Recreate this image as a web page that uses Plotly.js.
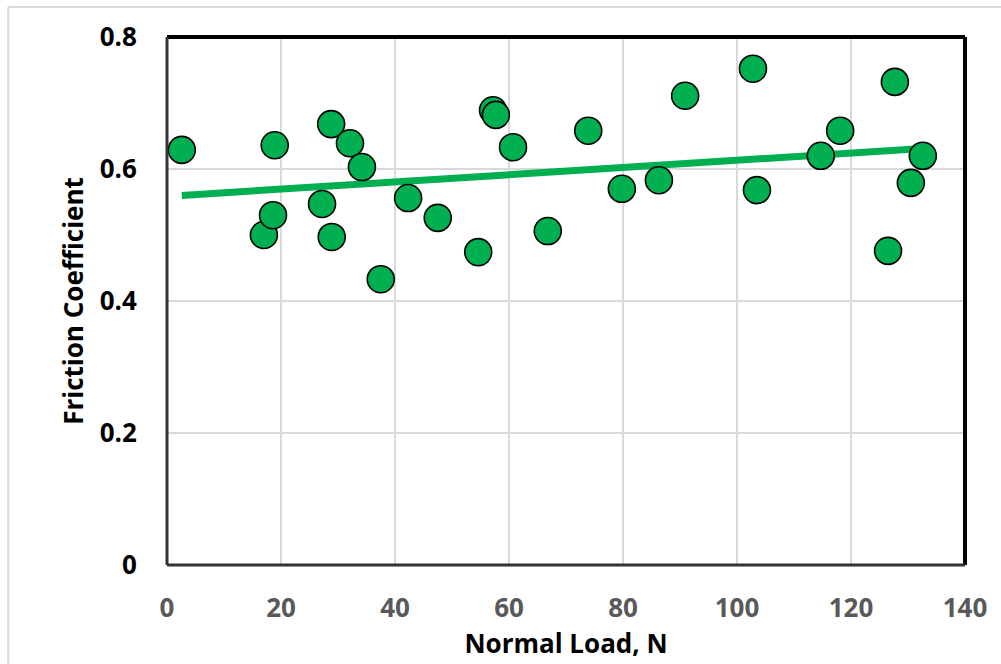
<!DOCTYPE html>
<html><head><meta charset="utf-8">
<script src="https://cdn.plot.ly/plotly-3.0.1.min.js"></script>
<style>html,body{margin:0;padding:0;background:#fff;}#chart{width:1001px;height:664px;}</style>
</head><body><div id="chart"></div>
<script>
const loadN = [2.6,17.0,18.9,18.6,27.2,28.8,28.9,32.1,34.2,37.5,42.3,47.5,54.6,57.2,57.7,60.7,66.8,73.9,79.8,86.3,90.9,102.8,103.5,114.7,118.1,126.5,127.7,130.5,132.6];
const friction = [0.629,0.500,0.636,0.530,0.547,0.668,0.497,0.639,0.603,0.433,0.556,0.526,0.474,0.689,0.682,0.633,0.506,0.658,0.570,0.583,0.711,0.752,0.568,0.620,0.658,0.476,0.732,0.579,0.620];
const trendX = [2.6,132.6];
const trendY = [0.560,0.631];
const xTicks = [0,20,40,60,80,100,120,140];
const yTicks = [0,0.2,0.4,0.6,0.8];
const yTickText = ['0','0.2','0.4','0.6','0.8'];

const green = '#00B050';
const traces = [
  {x: trendX, y: trendY, mode:'lines', line:{color:green,width:7}, hoverinfo:'skip', showlegend:false},
  {x: loadN, y: friction, mode:'markers', marker:{size:27,color:green,line:{color:'#000',width:1.6}}, showlegend:false}
];
const fam = '"Open Sans", Lato, sans-serif';
const layout = {
  width:1001, height:664,
  margin:{l:167,r:36,t:37,b:99},
  paper_bgcolor:'#fff', plot_bgcolor:'#fff',
  font:{family:fam},
  xaxis:{range:[0,140], tickvals:xTicks, ticktext:xTicks.map(String),
    showgrid:true, gridcolor:'#d9d9d9', gridwidth:1.5, zeroline:false,
    tickfont:{family:fam,size:26,color:'#595959',weight:'bold'}, ticks:'outside', ticklen:20, tickcolor:'rgba(0,0,0,0)',
    title:{text:'Normal Load, N', font:{family:fam,size:26,color:'#000',weight:'bold'}, standoff:2}},
  yaxis:{range:[0,0.8], tickvals:yTicks, ticktext:yTickText,
    showgrid:true, gridcolor:'#d9d9d9', gridwidth:1.5, zeroline:false,
    tickfont:{family:fam,size:26,color:'#000',weight:'bold'}, ticks:'outside', ticklen:24, tickcolor:'rgba(0,0,0,0)',
    title:{text:'Friction Coefficient', font:{family:fam,size:26,color:'#000',weight:'bold'}, standoff:8}},
  shapes:[
    {type:'line', xref:'paper', yref:'paper', x0:0, x1:1, y0:1, y1:1, line:{color:'#000',width:4}},
    {type:'line', xref:'paper', yref:'paper', x0:1, x1:1, y0:0, y1:1, line:{color:'#000',width:4}},
    {type:'line', xref:'paper', yref:'paper', x0:0, x1:0, y0:0, y1:1, line:{color:'#333',width:3}},
    {type:'line', xref:'paper', yref:'paper', x0:0, x1:1, y0:0, y1:0, line:{color:'#333',width:3}},
    {type:'line', xref:'paper', yref:'paper', x0:-0.199, x1:1.1, y0:1.0568, y1:1.0568, line:{color:'#d9d9d9',width:2}, layer:'below'},
    {type:'line', xref:'paper', yref:'paper', x0:-0.199, x1:-0.199, y0:-0.2, y1:1.0568, line:{color:'#d9d9d9',width:2}, layer:'below'}
  ]
};
Plotly.newPlot('chart', traces, layout, {displayModeBar:false, staticPlot:true});
</script></body></html>
